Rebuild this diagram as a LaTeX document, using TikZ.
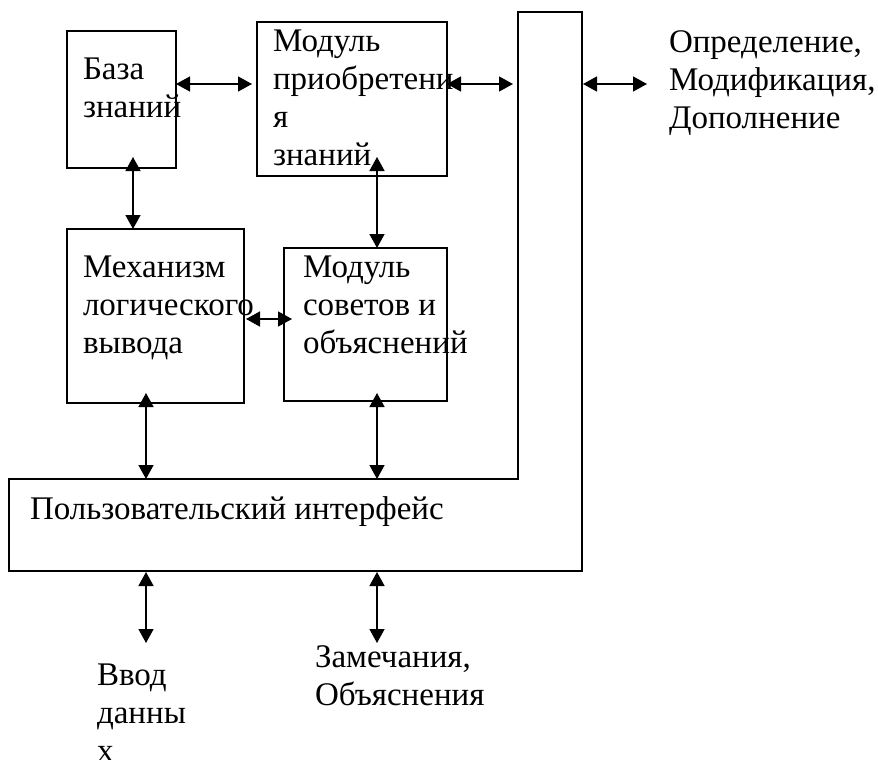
\documentclass[tikz,border=0pt]{standalone}
\usepackage{fontspec}
\setmainfont{Liberation Serif}
\usetikzlibrary{arrows.meta}
\tikzset{
  boxline/.style={draw=black, line width=1.5pt},
  blk/.style={boxline, anchor=north west, inner sep=0pt, outer sep=0pt},
  lbl/.style={anchor=base west, align=left, inner sep=0pt, outer sep=0pt,
    font=\fontsize{33pt}{38pt}\selectfont, text=black},
  dbl/.style={line width=1.5pt, {Triangle[length=14pt,width=15pt]}-{Triangle[length=14pt,width=15pt]}},
}
\begin{document}
\begin{tikzpicture}[x=1pt,y=-1pt]
\useasboundingbox (0,0) rectangle (878,760);
\fill[white] (0,0) rectangle (878,760);
% boxes
\node[blk, minimum width=109pt, minimum height=137pt] (kb) at (67,31) {};
\node[blk, minimum width=190pt, minimum height=154pt] (acq) at (257,22) {};
\node[blk, minimum width=177pt, minimum height=174pt] (mech) at (67,229) {};
\node[blk, minimum width=163pt, minimum height=153pt] (adv) at (284,248) {};
% user interface (L shape)
\node[anchor=north west, inner sep=0pt, outer sep=0pt, minimum width=573pt, minimum height=92pt] (uib) at (9,479) {};
\node[anchor=north west, inner sep=0pt, outer sep=0pt, minimum width=64pt, minimum height=467pt] (uiv) at (518,12) {};
\draw[boxline] (uiv.north west) -- (uiv.north east) -- (uib.south east) -- (uib.south west) -- (uib.north west) -- (uiv.south west) -- cycle;
% texts (anchored at the baseline of their last line)
\node[lbl] (kbT) at (83,117) {База\\знаний};
\node[lbl] (acqT) at (273,165) {Модуль\\приобретени\\я\\знаний};
\node[lbl] (mechT) at (83,353) {Механизм\\логического\\вывода};
\node[lbl] (advT) at (303,353) {Модуль\\советов и\\объяснений};
\node[lbl] (uiT) at (30,519) {Пользовательский интерфейс};
\node[lbl] (outT) at (669,128) {Определение,\\Модификация,\\Дополнение};
\node[lbl] (inT) at (97,761) {Ввод\\данны\\х};
\node[lbl] (remT) at (315,705) {Замечания,\\Объяснения};
% connectors
\draw[dbl] ([yshift=-53pt]kb.north east) -- ([xshift=-5pt,yshift=-62pt]acq.north west);
\draw[dbl] ([yshift=-62pt]acq.north east) -- ([xshift=-5pt,yshift=-72pt]uiv.north west);
\draw[dbl] ([xshift=1pt,yshift=-72pt]uiv.north east) -- ([xshift=65pt,yshift=-72pt]uiv.north east);
\draw[dbl] ([xshift=66pt,yshift=11pt]kb.south west) -- ([xshift=66pt]mech.north west);
\draw[dbl] ([xshift=120pt,yshift=19pt]acq.south west) -- ([xshift=93pt]adv.north west);
\draw[dbl] ([xshift=2pt,yshift=84pt]mech.south east) -- ([xshift=8pt,yshift=82pt]adv.south west);
\draw[dbl] ([xshift=79pt,yshift=10pt]mech.south west) -- ([xshift=137pt]uib.north west);
\draw[dbl] ([xshift=93pt,yshift=8pt]adv.south west) -- ([xshift=368pt]uib.north west);
\draw[dbl] ([xshift=137pt,yshift=-1pt]uib.south west) -- ([xshift=137pt,yshift=-72pt]uib.south west);
\draw[dbl] ([xshift=368pt,yshift=-1pt]uib.south west) -- ([xshift=368pt,yshift=-72pt]uib.south west);
\end{tikzpicture}
\end{document}
